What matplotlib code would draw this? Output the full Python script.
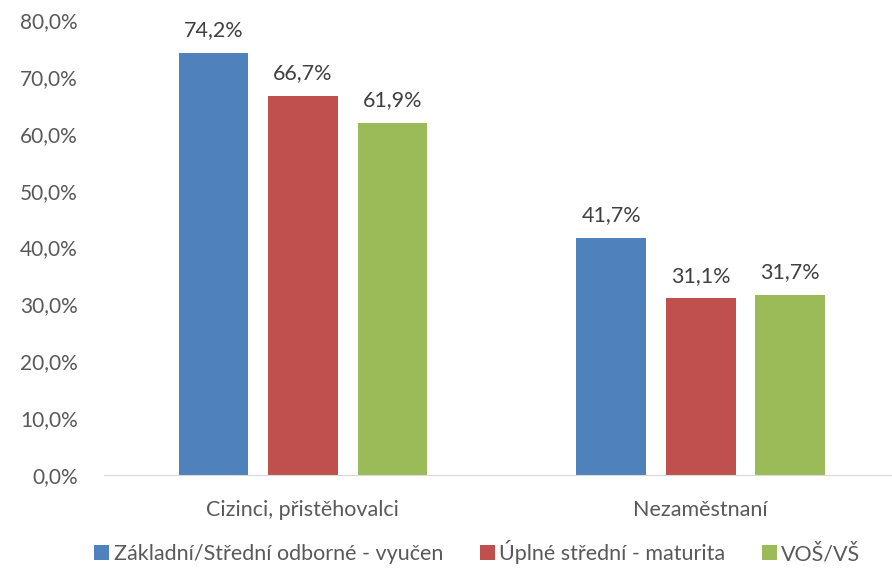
import numpy as np
import matplotlib.pyplot as plt
from matplotlib.ticker import FuncFormatter

plt.rcParams['font.family'] = ['Lato', 'DejaVu Sans']

categories = ['Cizinci, přistěhovalci', 'Nezaměstnaní']
series = ['Základní/Střední odborné - vyučen', 'Úplné střední - maturita', 'VOŠ/VŠ']
values = [
    [74.2, 41.7],
    [66.7, 31.1],
    [61.9, 31.7],
]
colors = ['#4f81bd', '#c0504d', '#9bbb59']

fig = plt.figure(figsize=(8.92, 5.71), dpi=100)
ax = fig.add_axes([0.1166, 0.168, 0.892, 0.797])

x = np.arange(len(categories))
w = 0.175
step = 0.225
for i, (name, vals) in enumerate(zip(series, values)):
    pos = x + (i - 1) * step
    ax.bar(pos, vals, width=w, color=colors[i], label=name)
    for p, v in zip(pos, vals):
        ax.text(p, v + 2.2, f'{v:.1f}%'.replace('.', ','), ha='center', va='bottom',
                fontsize=15.5, color='#404040')

ax.set_xlim(-0.5, 1.5)
ax.set_ylim(0, 80)
ax.set_yticks(np.arange(0, 81, 10))
ax.yaxis.set_major_formatter(FuncFormatter(lambda v, _: f'{v:.1f}%'.replace('.', ',')))
ax.set_xticks(x)
ax.set_xticklabels(categories)
ax.tick_params(axis='both', length=0, labelsize=15.5, labelcolor='#595959')
ax.tick_params(axis='y', labelsize=15, pad=19)
ax.tick_params(axis='x', pad=18)
for s in ['top', 'right', 'left']:
    ax.spines[s].set_visible(False)
ax.spines['bottom'].set_color('#d9d9d9')

fig.legend(loc='lower center', bbox_to_anchor=(0.535, -0.022), ncol=3, frameon=False,
           fontsize=15.5, handlelength=0.7, handleheight=0.7, handletextpad=0.2,
           columnspacing=1.7, labelcolor='#595959')

fig.savefig('out.png')
